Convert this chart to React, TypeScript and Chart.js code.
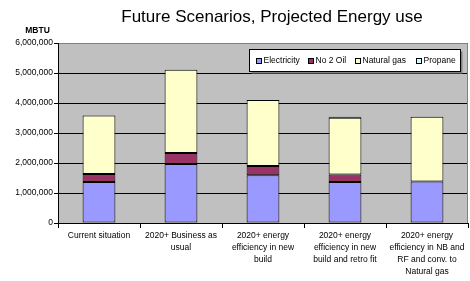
import React, { useEffect, useRef } from "react";
import { Chart, registerables } from "chart.js";
Chart.register(...registerables);

const categories: string[][] = [
  ["Current situation"],
  ["2020+ Business as", "usual"],
  ["2020+ energy", "efficiency in new", "build"],
  ["2020+ energy", "efficiency in new", "build and retro fit"],
  ["2020+ energy", "efficiency in NB and", "RF and conv. to", "Natural gas"],
];
const electricity = [1370000, 1970000, 1590000, 1370000, 1380000];
const no2Oil = [260000, 360000, 310000, 250000, null];
const naturalGas = [1950000, 2780000, 2200000, 1890000, 2160000];
const propane = [null, null, null, 30000, null];

const titleText = "Future Scenarios, Projected Energy use";
const yUnit = "MBTU";
const FONT = "'Liberation Sans', Arial, sans-serif";
const legendMarkerX = [256, 308, 355, 416];

const decorPlugin = {
  id: "decor",
  beforeDraw(chart: any) {
    const { ctx, chartArea: a } = chart;
    ctx.save();
    ctx.fillStyle = "#C0C0C0";
    ctx.fillRect(a.left, a.top, a.right - a.left, a.bottom - a.top);
    ctx.restore();
  },
  afterDraw(chart: any) {
    const { ctx, chartArea: a } = chart;
    ctx.save();
    ctx.strokeStyle = "#808080";
    ctx.lineWidth = 1;
    ctx.beginPath();
    ctx.moveTo(Math.round(a.right) - 0.5, a.top);
    ctx.lineTo(Math.round(a.right) - 0.5, a.bottom);
    ctx.stroke();
    ctx.fillStyle = "#000";
    ctx.font = `17px ${FONT}`;
    ctx.textAlign = "center";
    ctx.textBaseline = "alphabetic";
    ctx.fillText(titleText, 272, 22);
    ctx.font = `bold 8.5px ${FONT}`;
    ctx.textBaseline = "middle";
    ctx.fillText(yUnit, 37.5, 30.5);
    const bx = 249.5, by = 49.5, bw = 211, bh = 22;
    ctx.fillStyle = "#808080";
    ctx.fillRect(bx + 2, by + 2, bw, bh);
    ctx.fillStyle = "#fff";
    ctx.fillRect(bx, by, bw, bh);
    ctx.strokeStyle = "#000";
    ctx.strokeRect(bx, by, bw, bh);
    ctx.font = `8.5px ${FONT}`;
    ctx.textAlign = "left";
    ctx.textBaseline = "middle";
    chart.data.datasets.forEach((ds: any, i: number) => {
      const x = legendMarkerX[i];
      ctx.fillStyle = ds.backgroundColor;
      ctx.fillRect(x + 0.5, 58.5, 5, 5);
      ctx.strokeStyle = "#000";
      ctx.strokeRect(x + 0.5, 58.5, 5, 5);
      ctx.fillStyle = "#000";
      ctx.fillText(ds.label, x + 7.5, 60.5);
    });
    ctx.restore();
  },
};

export default function App() {
  const ref = useRef<HTMLCanvasElement>(null);
  useEffect(() => {
    if (!ref.current) return;
    const chart = new Chart(ref.current, {
      type: "bar",
      data: {
        labels: categories as any,
        datasets: [
          { label: "Electricity", data: electricity, backgroundColor: "#9999FF" },
          { label: "No 2 Oil", data: no2Oil as any, backgroundColor: "#993366" },
          { label: "Natural gas", data: naturalGas, backgroundColor: "#FFFFCC" },
          { label: "Propane", data: propane as any, backgroundColor: "#CCFFFF" },
        ].map((d) => ({
          ...d,
          borderColor: "#000",
          borderWidth: 1,
          borderSkipped: false as any,
          categoryPercentage: 1,
          barPercentage: 0.4,
        })),
      },
      options: {
        animation: false,
        responsive: false,
        devicePixelRatio: 1,
        layout: { padding: { top: 43, right: 2, left: 0, bottom: 0 } },
        plugins: { legend: { display: false }, title: { display: false }, tooltip: { enabled: false } },
        scales: {
          x: {
            stacked: true,
            grid: { drawOnChartArea: false, tickLength: 5, color: "#000", offset: true },
            border: { color: "#000", width: 1 },
            ticks: {
              color: "#000",
              font: { family: FONT, size: 8.5, lineHeight: 1.45 },
              padding: 1,
              maxRotation: 0,
              autoSkip: false,
            },
            afterFit: (s: any) => { s.height = 58; },
          },
          y: {
            stacked: true,
            min: 0,
            max: 6000000,
            ticks: {
              stepSize: 1000000,
              color: "#000",
              font: { family: FONT, size: 8.5 },
              padding: 1,
              callback: (v: any) => Number(v).toLocaleString("en-US"),
            },
            grid: {
              color: (c: any) => (c.tick && c.tick.value === 6000000 ? "#808080" : "#000"),
              tickColor: "#000",
              tickLength: 4,
            },
            border: { color: "#000", width: 1 },
            afterFit: (s: any) => { s.width = 58; },
          },
        },
      },
      plugins: [decorPlugin],
    });
    return () => chart.destroy();
  }, []);
  return (
    <div style={{ position: "absolute", left: 0, top: 0, width: 470, height: 281 }}>
      <canvas ref={ref} width={470} height={281} />
    </div>
  );
}
